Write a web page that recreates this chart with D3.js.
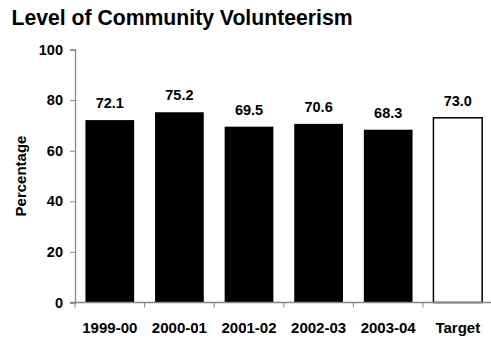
<!DOCTYPE html>
<html><head><meta charset="utf-8">
<script src="https://cdn.jsdelivr.net/npm/d3@7"></script>
<style>body{margin:0;background:#fff}svg{display:block}text{font-family:"Liberation Sans",Arial,sans-serif;font-weight:bold}</style>
</head><body><svg id="c" width="491" height="339"></svg>
<script>
const categories = ["1999-00","2000-01","2001-02","2002-03","2003-04","Target"];
const values = [72.1, 75.2, 69.5, 70.6, 68.3, 73.0];
const valueLabels = ["72.1","75.2","69.5","70.6","68.3","73.0"];
const yTicks = [0,20,40,60,80,100];
const title = "Level of Community Volunteerism";
const yTitle = "Percentage";

const svg = d3.select("#c");
const x0 = 75, x1 = 492.6, yTop = 49.5, yBot = 302.5;
const x = d3.scaleBand().domain(categories).range([x0, x1]).paddingInner(0.3).paddingOuter(0.15);
const y = d3.scaleLinear().domain([0,100]).range([yBot, yTop]);

svg.append("text").attr("x", 11.5).attr("y", 25).attr("font-size", 21.2).text(title);

// bars
svg.selectAll("rect.bar").data(categories).enter().append("rect")
  .attr("x", d => x(d)).attr("width", x.bandwidth())
  .attr("y", (d,i) => y(values[i])).attr("height", (d,i) => yBot - y(values[i]))
  .attr("fill", d => d === "Target" ? "#fff" : "#000")
  .attr("stroke", "#000").attr("stroke-width", d => d === "Target" ? 1.5 : 0);

// value labels
svg.selectAll("text.val").data(categories).enter().append("text")
  .attr("x", d => x(d) + x.bandwidth()/2).attr("y", (d,i) => y(values[i]) - 12)
  .attr("text-anchor", "middle").attr("font-size", 14.5).text((d,i) => valueLabels[i]);

// y axis
const ya = svg.append("g").attr("transform", `translate(${x0},0)`)
  .call(d3.axisLeft(y).tickValues(yTicks).tickSize(5).tickPadding(7));
ya.select(".domain").attr("stroke", "#888").attr("stroke-width", 1.3);
ya.selectAll(".tick line").attr("stroke", "#888");
ya.selectAll(".tick text").attr("font-size", 14.5).attr("fill", "#000")
  .style("font-family", '"Liberation Sans",Arial,sans-serif').style("font-weight", "bold");

// x axis
const xb = d3.scaleLinear().domain([0, categories.length]).range([x0, x1]);
const xa = svg.append("g").attr("transform", `translate(0,${yBot})`);
xa.append("line").attr("x1", x0 - 5).attr("x2", x1).attr("stroke", "#888").attr("stroke-width", 1.3);
xa.selectAll("line.t").data(d3.range(categories.length + 1)).enter().append("line")
  .attr("x1", d => xb(d)).attr("x2", d => xb(d)).attr("y1", 0).attr("y2", 5).attr("stroke", "#888");
xa.selectAll("text").data(categories).enter().append("text")
  .attr("x", d => x(d) + x.bandwidth()/2).attr("y", 30.8)
  .attr("text-anchor", "middle").attr("font-size", 15).text(d => d);

svg.append("text").attr("transform", `translate(26,176) rotate(-90)`)
  .attr("text-anchor", "middle").attr("font-size", 15).text(yTitle);
</script></body></html>
